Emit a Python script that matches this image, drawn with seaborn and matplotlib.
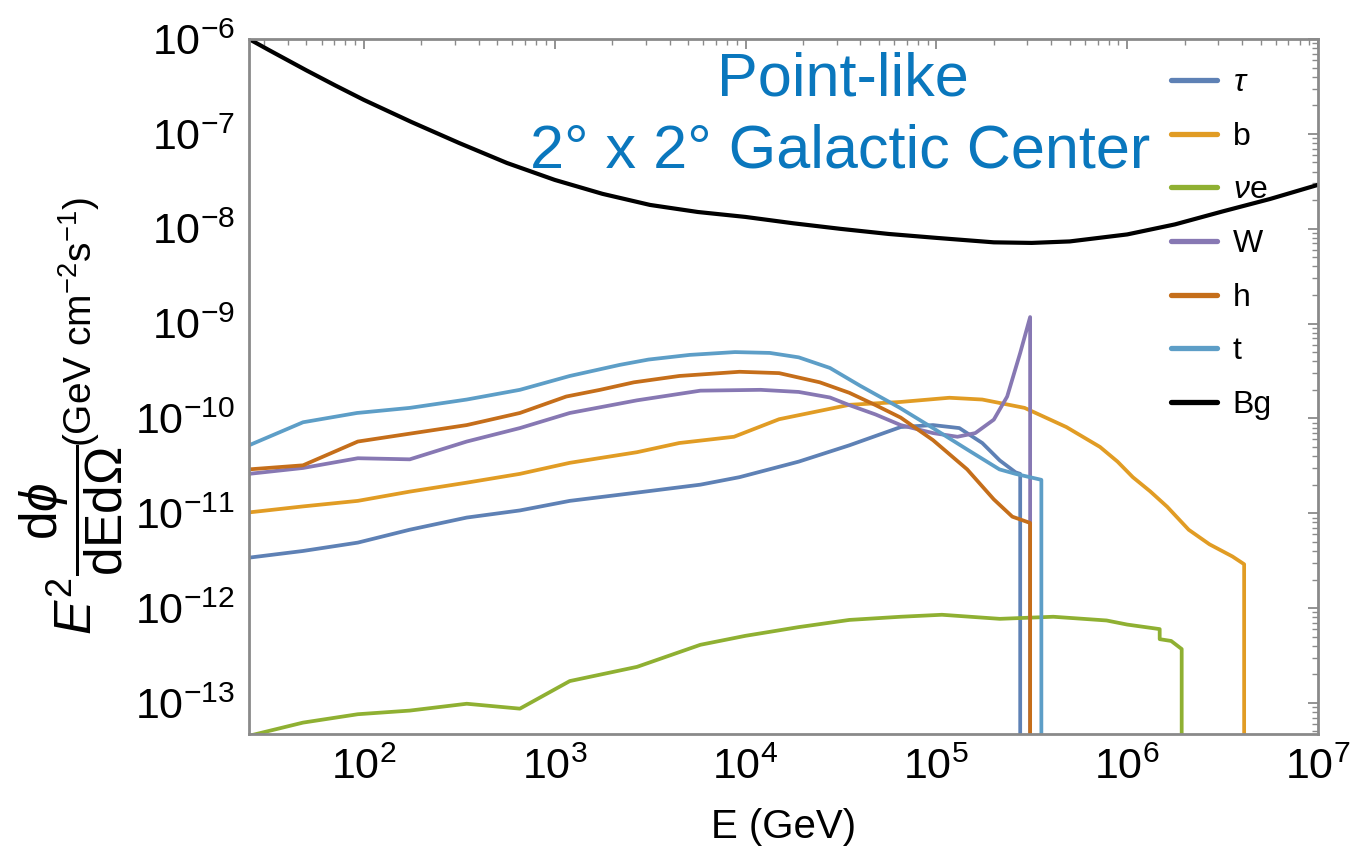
import matplotlib
matplotlib.use("Agg")
import matplotlib.pyplot as plt
import pandas as pd
import seaborn as sns
from matplotlib.ticker import LogLocator, NullFormatter, LogFormatterSciNotation

# Energy grid (GeV) and E^2 dPhi/(dE dOmega) (GeV cm^-2 s^-1) for each channel.
# A trailing 1e-15 point marks the vertical cut-off at the kinematic endpoint.
tau_E = [25, 48, 93, 174, 346, 657, 1.2e3, 2.7e3, 5.8e3, 9.3e3, 1.9e4, 3.5e4,
         6.5e4, 9.6e4, 1.32e5, 1.74e5, 2.15e5, 2.6e5, 2.75e5, 2.75e5]
tau_flux = [3.4e-12, 4.0e-12, 4.9e-12, 6.7e-12, 9.0e-12, 1.07e-11, 1.35e-11,
            1.65e-11, 2.0e-11, 2.4e-11, 3.5e-11, 5.2e-11, 8.1e-11, 8.5e-11,
            7.9e-11, 5.5e-11, 3.6e-11, 2.7e-11, 2.6e-11, 1e-15]

b_E = [25, 48, 93, 174, 346, 657, 1.2e3, 2.7e3, 4.5e3, 8.7e3, 1.5e4, 3.5e4,
       6.5e4, 1.17e5, 1.74e5, 2.9e5, 4.8e5, 7.2e5, 8.9e5, 1.07e6, 1.32e6,
       1.62e6, 2.1e6, 2.7e6, 3.56e6, 4.1e6, 4.1e6]
b_flux = [1.02e-11, 1.18e-11, 1.35e-11, 1.69e-11, 2.1e-11, 2.6e-11, 3.4e-11,
          4.4e-11, 5.5e-11, 6.4e-11, 9.8e-11, 1.39e-10, 1.49e-10, 1.65e-10,
          1.58e-10, 1.29e-10, 8.1e-11, 5.0e-11, 3.5e-11, 2.4e-11, 1.7e-11,
          1.17e-11, 6.7e-12, 4.7e-12, 3.5e-12, 2.9e-12, 1e-15]

ve_E = [25, 48, 93, 174, 346, 657, 1.2e3, 2.7e3, 5.8e3, 1e4, 1.9e4, 3.5e4,
        6.5e4, 1.07e5, 2.15e5, 4.1e5, 7.8e5, 1.0e6, 1.48e6, 1.48e6, 1.7e6,
        1.93e6, 1.93e6]
ve_flux = [4.5e-14, 6.2e-14, 7.6e-14, 8.3e-14, 9.8e-14, 8.7e-14, 1.7e-13,
           2.4e-13, 4.1e-13, 5.1e-13, 6.3e-13, 7.5e-13, 8.1e-13, 8.5e-13,
           7.7e-13, 8.1e-13, 7.4e-13, 6.7e-13, 6.0e-13, 4.7e-13, 4.5e-13,
           3.7e-13, 1e-15]

W_E = [25, 48, 93, 174, 346, 657, 1.2e3, 2.7e3, 5.8e3, 1.2e4, 1.9e4, 2.77e4,
       3.5e4, 4.8e4, 6.5e4, 9.6e4, 1.29e5, 1.6e5, 2.0e5, 2.35e5, 2.75e5,
       3.1e5, 3.1e5]
W_flux = [2.6e-11, 3.0e-11, 3.8e-11, 3.7e-11, 5.7e-11, 7.9e-11, 1.14e-10,
          1.55e-10, 1.96e-10, 2.0e-10, 1.9e-10, 1.66e-10, 1.38e-10, 1.1e-10,
          8.5e-11, 7.0e-11, 6.4e-11, 7.0e-11, 9.7e-11, 1.7e-10, 4.9e-10,
          1.17e-9, 1e-15]

h_E = [25, 48, 93, 174, 346, 657, 1.15e3, 1.73e3, 2.6e3, 4.5e3, 9.3e3, 1.5e4,
       2.45e4, 3.5e4, 4.8e4, 6.5e4, 9.6e4, 1.45e5, 2.0e5, 2.5e5, 3.1e5, 3.1e5]
h_flux = [2.9e-11, 3.2e-11, 5.7e-11, 6.9e-11, 8.5e-11, 1.14e-10, 1.7e-10,
          2.0e-10, 2.4e-10, 2.8e-10, 3.1e-10, 3.0e-10, 2.4e-10, 1.86e-10,
          1.38e-10, 1.02e-10, 5.9e-11, 2.9e-11, 1.4e-11, 9.2e-12, 7.9e-12, 1e-15]

t_E = [25, 48, 92, 174, 346, 657, 1.2e3, 2.2e3, 3.1e3, 5.1e3, 8.8e3, 1.34e4,
       1.9e4, 2.77e4, 4.0e4, 6.4e4, 9.6e4, 1.45e5, 2.14e5, 2.6e5, 3.55e5, 3.55e5]
t_flux = [5.2e-11, 9.1e-11, 1.14e-10, 1.29e-10, 1.58e-10, 2.0e-10, 2.8e-10,
          3.67e-10, 4.17e-10, 4.67e-10, 5.0e-10, 4.9e-10, 4.4e-10, 3.4e-10,
          2.2e-10, 1.3e-10, 7.9e-11, 4.7e-11, 2.9e-11, 2.6e-11, 2.25e-11, 1e-15]

Bg_E = [25, 31.6, 50, 70.8, 100, 178, 316, 562, 1e3, 1.78e3, 3.16e3, 5.62e3,
        1e4, 1.78e4, 3.16e4, 5.62e4, 1e5, 2e5, 3.16e5, 5e5, 1e6, 1.78e6,
        3.16e6, 5.62e6, 1e7]
Bg_flux = [1.0e-6, 7.7e-7, 4.67e-7, 3.24e-7, 2.28e-7, 1.33e-7, 8.0e-8, 4.93e-8,
           3.27e-8, 2.33e-8, 1.78e-8, 1.5e-8, 1.33e-8, 1.14e-8, 9.95e-9,
           8.8e-9, 8.0e-9, 7.18e-9, 7.08e-9, 7.34e-9, 8.7e-9, 1.11e-8,
           1.52e-8, 2.06e-8, 2.9e-8]

labels = [r"$\tau$", "b", r"$\nu$e", "W", "h", "t", "Bg"]
colors = ["#5E81B5", "#E19C24", "#8FB032", "#8778B3", "#C56E1A", "#5D9EC7", "#000000"]
widths = [2.7, 2.7, 2.7, 2.7, 2.7, 2.7, 3.0]

series = [(tau_E, tau_flux), (b_E, b_flux), (ve_E, ve_flux), (W_E, W_flux),
          (h_E, h_flux), (t_E, t_flux), (Bg_E, Bg_flux)]

sns.set_theme(style="white")
plt.rcParams["font.family"] = ["Liberation Sans", "DejaVu Sans"]
plt.rcParams["mathtext.fontset"] = "custom"
plt.rcParams["mathtext.rm"] = "Liberation Sans"
plt.rcParams["mathtext.it"] = "Liberation Sans:italic"
plt.rcParams["mathtext.bf"] = "Liberation Sans:bold"
plt.rcParams["text.color"] = "black"
plt.rcParams["axes.labelcolor"] = "black"

fig = plt.figure(figsize=(13.56, 8.57), dpi=100)
ax = fig.add_axes([0.1836, 0.1435, 0.7884, 0.811])

for (E, F), lab, col, lw in zip(series, labels, colors, widths):
    df = pd.DataFrame({"E": E, "flux": F})
    sns.lineplot(data=df, x="E", y="flux", ax=ax, color=col, linewidth=lw,
                 label=lab, estimator=None, sort=False)

ax.set_xscale("log")
ax.set_yscale("log")
ax.set_xlim(25, 1e7)
ax.set_ylim(4.7e-14, 1e-6)

ax.xaxis.set_major_locator(LogLocator(base=10, numticks=20))
ax.xaxis.set_minor_locator(LogLocator(base=10, subs=range(2, 10), numticks=100))
ax.yaxis.set_major_locator(LogLocator(base=10, numticks=20))
ax.yaxis.set_minor_locator(LogLocator(base=10, subs=range(2, 10), numticks=100))
ax.xaxis.set_major_formatter(LogFormatterSciNotation())
ax.yaxis.set_major_formatter(LogFormatterSciNotation())
ax.xaxis.set_minor_formatter(NullFormatter())
ax.yaxis.set_minor_formatter(NullFormatter())

frame_col = "#8a8a8a"
for s in ax.spines.values():
    s.set_color(frame_col)
    s.set_linewidth(2)
ax.tick_params(which="both", direction="in", top=True, right=True,
               color=frame_col, labelcolor="black")
ax.tick_params(which="major", length=7, width=1.3, labelsize=31, pad=10)
ax.tick_params(which="minor", length=4, width=1.0)

ax.set_xlabel("E (GeV)", fontsize=29, labelpad=14, color="black")
ax.set_ylabel("")

# y-axis title: the quantity with its fraction, then the units
fig.text(0.053, 0.37,
         r"$E^2\dfrac{\mathrm{d}\phi}{\mathrm{dEd}\Omega}$",
         rotation=90, ha="center", va="center", fontsize=37, color="black")
fig.text(0.058, 1 - 447 / 857, r"(GeV cm$^{-2}$s$^{-1}$)",
         rotation=90, ha="center", va="bottom", fontsize=28, color="black")

title_col = "#0A77BD"
ax.text(0.556, 0.941, "Point-like", transform=ax.transAxes, ha="center",
        va="center", fontsize=44, color=title_col)
ax.text(0.553, 0.838, "2° x 2° Galactic Center", transform=ax.transAxes,
        ha="center", va="center", fontsize=44, color=title_col)

leg = ax.legend(loc="upper left", bbox_to_anchor=(0.862, 0.958), frameon=False,
                fontsize=23, handlelength=1.45, handletextpad=0.5,
                labelspacing=0.74, borderpad=0, borderaxespad=0)
for line in leg.get_lines():
    line.set_linewidth(3.8)
for txt in leg.get_texts():
    txt.set_color("black")

fig.savefig("out.png", dpi=100)
